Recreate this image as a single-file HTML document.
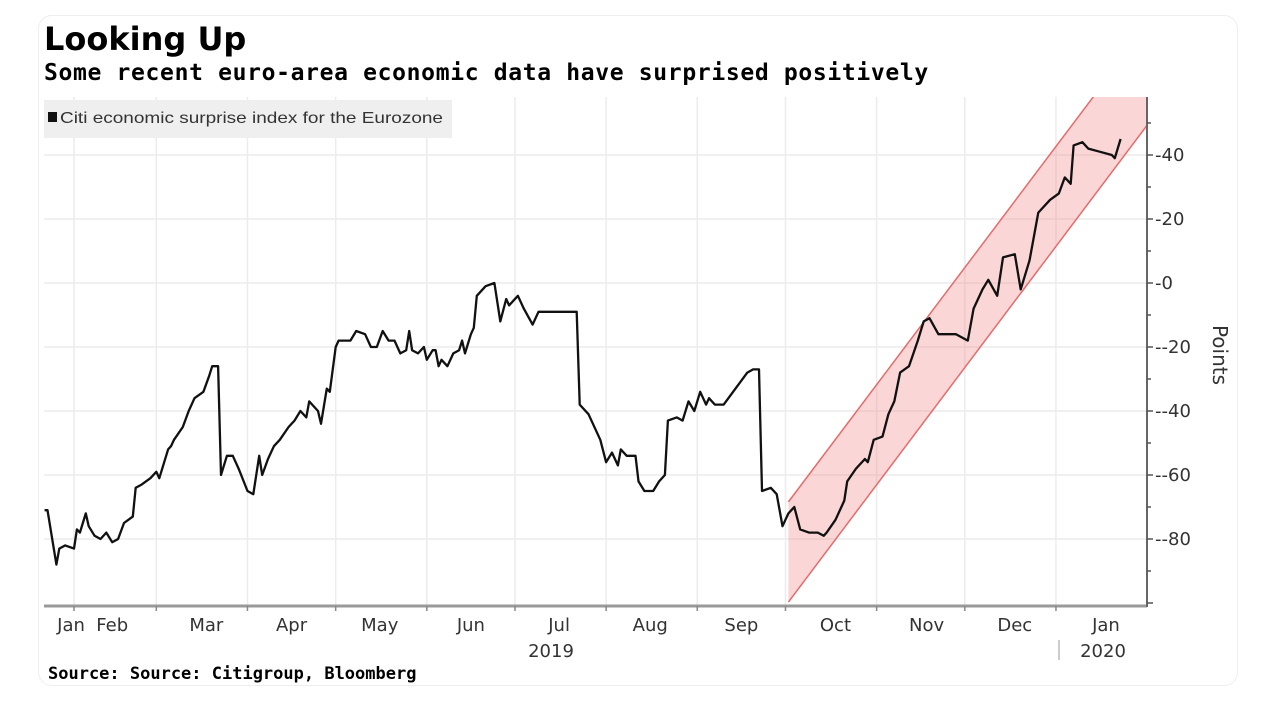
<!DOCTYPE html>
<html><head><meta charset="utf-8"><style>
body{margin:0;background:#fff;width:1280px;height:704px;overflow:hidden;font-family:"Liberation Sans","DejaVu Sans",sans-serif}
#card{position:absolute;left:38px;top:15px;width:1198px;height:669px;border:1px solid #eee;border-radius:14px}
.t{position:absolute;font-family:"DejaVu Sans","Liberation Sans",sans-serif;font-weight:bold;color:#000;white-space:nowrap}
.m{font-family:"DejaVu Sans Mono","Liberation Mono",monospace}
</style></head><body>
<div id="card"></div>
<div class="t" style="left:44px;top:20px;font-size:32px">Looking Up</div>
<div class="t m" style="left:44px;top:60px;font-size:23px;letter-spacing:0.66px">Some recent euro-area economic data have surprised positively</div>
<svg id="chart" width="1280" height="704" style="position:absolute;left:0;top:0"></svg>
<div class="t m" style="left:48px;top:664px;font-size:17px">Source: Source: Citigroup, Bloomberg</div>
<script>
const monthDays=[31,59,90,120,151,181,212,243,273,304,334,365];
const monthLabels=["Jan","Feb","Mar","Apr","May","Jun","Jul","Aug","Sep","Oct","Nov","Dec","Jan"];
const monthLabelDays=[30,44,76,105,135,166,196,227,258,290,321,351,382];
const yTicks=[40,20,0,-20,-40,-60,-80];
const days=[21,22,25,26,28,31,32,33,35,36,38,40,42,44,46,48,51,52,54,57,59,60,63,64,65,68,70,72,75,77,78,80,81,83,85,87,90,92,94,95,97,99,101,104,106,108,110,111,114,115,117,118,120,121,125,127,130,132,134,136,138,140,142,144,145,146,148,150,151,153,154,155,156,158,160,162,163,164,166,167,168,171,174,176,178,179,182,184,187,189,191,195,202,203,206,210,212,214,216,217,219,222,223,225,228,230,232,233,236,238,240,242,244,246,247,249,252,256,260,262,264,265,268,270,272,274,276,278,281,284,286,287,290,293,294,297,300,301,303,306,308,310,312,315,318,320,322,325,331,335,337,340,342,345,347,351,353,356,359,363,366,368,370,371,374,376,380,384,385,387];
const values=[-71,-71,-88,-83,-82,-83,-77,-78,-72,-76,-79,-80,-78,-81,-80,-75,-73,-64,-63,-61,-59,-61,-52,-51,-49,-45,-40,-36,-34,-29,-26,-26,-60,-54,-54,-58,-65,-66,-54,-60,-55,-51,-49,-45,-43,-40,-42,-37,-40,-44,-33,-34,-20,-18,-18,-15,-16,-20,-20,-15,-18,-18,-22,-21,-15,-21,-22,-20,-24,-21,-21,-26,-24,-26,-22,-21,-18,-22,-16,-14,-4,-1,0,-12,-5,-7,-4,-8,-13,-9,-9,-9,-9,-38,-41,-49,-56,-53,-57,-52,-54,-54,-62,-65,-65,-62,-60,-43,-42,-43,-37,-40,-34,-38,-36,-38,-38,-33,-28,-27,-27,-65,-64,-66,-76,-72,-70,-77,-78,-78,-79,-78,-74,-68,-62,-58,-55,-56,-49,-48,-41,-37,-28,-26,-18,-12,-11,-16,-16,-18,-8,-2,1,-4,8,9,-2,7,22,26,28,33,31,43,44,42,41,40,39,45];
const bandDays=[274,396];
const bandUpper=[-68.4,80.5];
const bandLower=[-99.7,49.3];
const NS="http://www.w3.org/2000/svg";
const svg=document.getElementById('chart');
const L=44,R=1147,T=97,B=606;
const x=d=>74+(d-31)*2.94;
const y=v=>283-v*3.2;
function el(t,a,p){const e=document.createElementNS(NS,t);for(const k in a)e.setAttribute(k,a[k]);(p||svg).appendChild(e);return e;}
const defs=el('defs',{});const cp=el('clipPath',{id:'clip'},defs);el('rect',{x:L,y:T,width:R-L,height:B-T},cp);
yTicks.forEach(v=>{const g=el('line',{x1:L,x2:R,y1:y(v),y2:y(v),stroke:'#ececec','stroke-width':1.5});
});
monthDays.forEach(d=>{const g=el('line',{x1:x(d),x2:x(d),y1:T,y2:B,stroke:'#ececec','stroke-width':1.5});
});
const lg=el('g',{});
el('rect',{x:44,y:100,width:408,height:38,fill:'#efefef'},lg);
el('rect',{x:48,y:112,width:9,height:10,fill:'#111'},lg);
const lt=el('text',{x:60,y:123,'font-size':16,fill:'#333','font-family':'Liberation Sans,sans-serif',textLength:383,lengthAdjust:'spacingAndGlyphs'},lg);lt.textContent='Citi economic surprise index for the Eurozone';
const bp=[[bandDays[0],bandUpper[0]],[bandDays[1],bandUpper[1]],[bandDays[1],bandLower[1]],[bandDays[0],bandLower[0]]].map(p=>x(p[0])+','+y(p[1])).join(' ');
const band=el('polygon',{points:bp,fill:'rgba(240,120,120,0.3)','clip-path':'url(#clip)'});

[bandUpper,bandLower].forEach(a=>{const l=el('line',{x1:x(bandDays[0]),y1:y(a[0]),x2:x(bandDays[1]),y2:y(a[1]),stroke:'#e86a6a','stroke-width':1.5,'clip-path':'url(#clip)'});
});
const pts=days.map((d,i)=>x(d).toFixed(1)+','+y(values[i]).toFixed(1)).join(' ');
const line=el('polyline',{points:pts,fill:'none',stroke:'#111','stroke-width':2.3,'stroke-linejoin':'round'});

const xa=el('line',{x1:L,x2:R,y1:B,y2:B,stroke:'#999','stroke-width':3});

const ya=el('line',{x1:R,x2:R,y1:T,y2:B+1,stroke:'#666','stroke-width':2});

monthDays.forEach(d=>{el('line',{x1:x(d),x2:x(d),y1:B,y2:B+5,stroke:'#888','stroke-width':1.5});});
for(let v=-100;v<=50;v+=10){el('line',{x1:R,x2:R+(v%20===0?6:4),y1:y(v),y2:y(v),stroke:'#555','stroke-width':1.5});}
yTicks.forEach(v=>{const t=el('text',{x:R+8,y:y(v)+6,'font-size':18,fill:'#333','font-family':'DejaVu Sans,sans-serif'});t.textContent='-'+v;
});
monthLabels.forEach((m,i)=>{const t=el('text',{x:x(monthLabelDays[i]),y:631,'font-size':18,fill:'#333','text-anchor':'middle','font-family':'DejaVu Sans,sans-serif'});t.textContent=m;
});
[["2019",551],["2020",1103]].forEach(a=>{const t=el('text',{x:a[1],y:657,'font-size':18,fill:'#333','text-anchor':'middle','font-family':'DejaVu Sans,sans-serif'});t.textContent=a[0];
});
el('line',{x1:1059,x2:1059,y1:640,y2:660,stroke:'#bbb','stroke-width':1.5});
const yt=el('text',{x:1213,y:355,'font-size':20,fill:'#333','text-anchor':'middle','font-family':'DejaVu Sans,sans-serif',transform:'rotate(90 1213 355)'});yt.textContent='Points';

</script>
</body></html>
